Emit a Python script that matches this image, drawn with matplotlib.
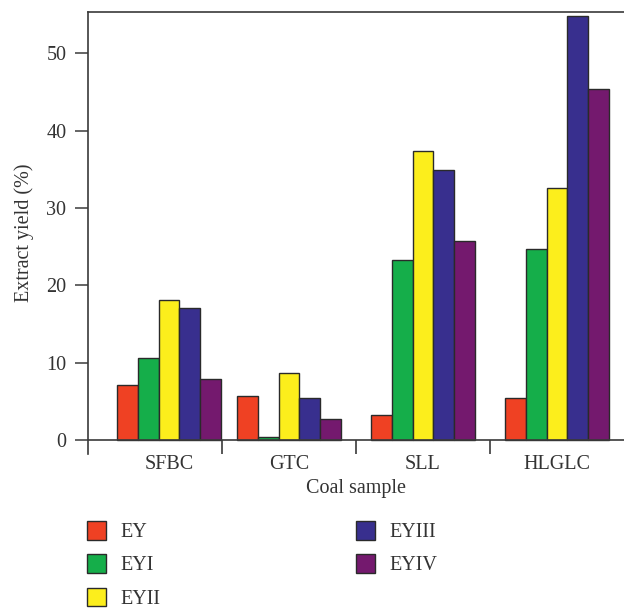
import matplotlib.pyplot as plt
import numpy as np

plt.rcParams['font.family'] = ['Liberation Serif', 'DejaVu Serif']

samples = ['SFBC', 'GTC', 'SLL', 'HLGLC']
series = ['EY', 'EYI', 'EYII', 'EYIII', 'EYIV']
ey = [7.1, 5.7, 3.2, 5.4]
eyi = [10.6, 0.4, 23.3, 24.7]
eyii = [18.1, 8.7, 37.3, 32.6]
eyiii = [17.1, 5.4, 34.9, 54.8]
eyiv = [7.9, 2.7, 25.7, 45.4]
yticks = [0, 10, 20, 30, 40, 50]

colors = ['#EF4123', '#15AE4A', '#FCEE1C', '#382F8E', '#74196E']
# group centres (the first group sits a little right of its slot in the original)
pos = np.array([0.104, 1.0, 2.0, 3.0])
width = 0.155

fig = plt.figure(figsize=(6.24, 6.11), dpi=100)
ax = fig.add_axes([0.141, 0.257, 0.859, 0.723])

for i, (name, vals) in enumerate(zip(series, [ey, eyi, eyii, eyiii, eyiv])):
    ax.bar(pos + (i - 2) * width, vals, width, color=colors[i],
           edgecolor='#2a2a2a', linewidth=1.0, label=name, zorder=3)

ymin = -1.81
ax.set_xlim(-0.5, 3.5)
ax.set_ylim(ymin, 55.3)

grey = '#3a3a3a'
ax.axhline(0, color=grey, lw=1.2, zorder=4)
ax.vlines([0.5, 1.5, 2.5], ymin, 0, color=grey, lw=1.2)

for s in ['bottom', 'right']:
    ax.spines[s].set_visible(False)
for s in ['left', 'top']:
    ax.spines[s].set_color(grey)
    ax.spines[s].set_linewidth(1.2)

fs = 14.5
ax.set_yticks(yticks)
ax.tick_params(axis='y', length=9.5, width=1.1, color=grey, pad=6,
               labelsize=fs, labelcolor='#333333')
ax.set_xticks(pos)
ax.set_xticklabels(samples)
ax.tick_params(axis='x', length=0, pad=0.5, labelsize=fs, labelcolor='#333333')

ax.set_xlabel('Coal sample', fontsize=fs, color='#333333', labelpad=4)
ax.set_ylabel('Extract yield (%)', fontsize=fs, color='#333333', labelpad=9)

fig.legend(loc='upper left', bbox_to_anchor=(0.110, 0.177), ncol=2,
           frameon=False, fontsize=fs, handlelength=0.95, handleheight=1.05,
           labelspacing=0.6, columnspacing=9.75, handletextpad=0.7,
           labelcolor='#333333')

plt.savefig('out.png')
